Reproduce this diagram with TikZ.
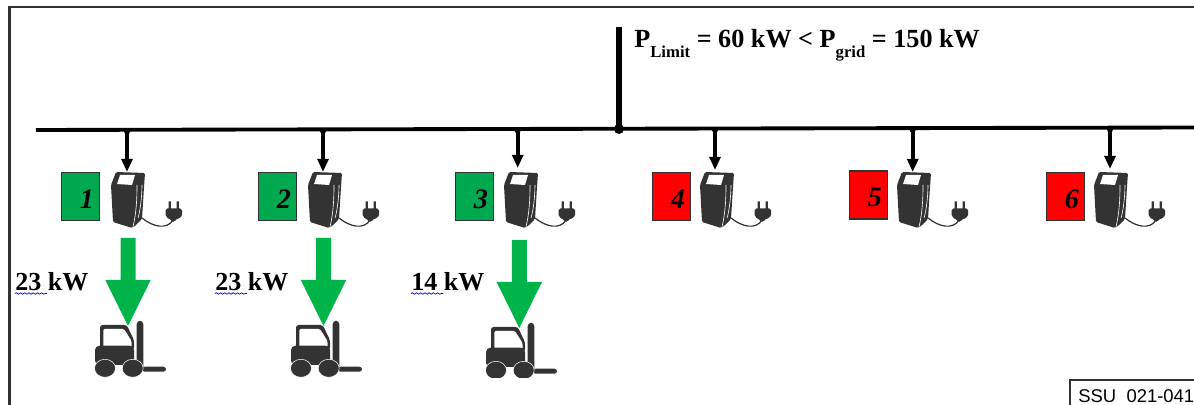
\documentclass[tikz,border=0pt]{standalone}
\usepackage{fontspec}
\setmainfont{Liberation Serif}
\newfontfamily\armo{Liberation Sans}
\usetikzlibrary{arrows.meta,decorations.pathmorphing}
\definecolor{gr}{HTML}{00A84F}
\definecolor{ga}{HTML}{00B44A}
\definecolor{dk}{HTML}{333333}
\tikzset{x=0.02cm,y=-0.02cm,
 frameln/.style={draw=dk,line width=1.4pt},
 busln/.style={line width=2.2pt,black},
 feed/.style={line width=2.2pt,black,-{Triangle[length=7.5pt,width=6.2pt]}},
 statbox/.style={draw=black!80,line width=.8pt,minimum width=0.76cm,minimum height=0.96cm,inner sep=0pt,anchor=north west},
 num/.style={font=\fontsize{16}{16}\selectfont\bfseries\itshape},
 kw/.style={font=\fontsize{14.8}{15}\selectfont\bfseries,anchor=base west,inner sep=0pt},
 charger/.pic={
  \fill[dk,rounded corners=.8pt] (5,0)--(34,1)--(33,15)--(31,47)--(24,54)--(21,56)--(2,50)--(0,13)--cycle;
  \fill[white] (9,3)--(24,3)--(21,13)--(6,12)--cycle;
  \draw[white,line width=.35pt] (26,13) .. controls (26,30) and (25,42) .. (22,55);
  \draw[white,line width=.35pt] (31,13) .. controls (31,25) and (29,40) .. (27,46);
  \draw[dk,line width=.7pt] (31,46) .. controls (42,55) and (56,58) .. (62,48);
  \fill[dk,rounded corners=1pt] (54.5,36.5) -- (71,36.5) -- (71,41) .. controls (71,45) and (67,47) .. (64,47.5) -- (63.5,50) -- (61,50) -- (60.5,47.5) .. controls (58,47) and (54.5,45) .. (54.5,41) -- cycle;
  \fill[dk] (57.5,29.5) rectangle (59.8,38) (65.5,29.5) rectangle (67.8,38);
 },
 lift/.pic={
  \fill[dk,rounded corners=1.5pt] (5,30) -- (5,5) -- (31.7,5) -- (39,20) -- (39,30) -- cycle;
  \fill[white,rounded corners=.8pt] (8.3,27) -- (8.3,9) -- (29,9) -- (36.5,21) -- (36.5,27) -- cycle;
  \fill[dk,rounded corners=2.5pt] (0,45) -- (0,25.7) -- (39,25.7) -- (39,45) -- cycle;
  \fill[dk,rounded corners=2pt] (41.7,.7) rectangle (48.3,53);
  \fill[dk,rounded corners=1.5pt] (47,46.7) rectangle (71,51.7);
  \fill[dk,draw=white,line width=.3pt] (10,48.3) ellipse [x radius=10.5,y radius=9];
  \fill[dk,draw=white,line width=.3pt] (37.7,48.3) ellipse [x radius=10.5,y radius=9];
 },
 bigarrow/.style={fill=ga}
}
\newcommand{\garrow}[3]{% centre x, top y, name
 \coordinate (#3) at (#1,#2);
 \fill[bigarrow] (#1-7.5,#2) -- (#1+7.5,#2) -- (#1+7.5,#2+42) -- (#1+22.7,#2+42) -- (#1,#2+88) -- (#1-22.7,#2+42) -- (#1-7.5,#2+42) -- cycle;
}
\begin{document}
\begin{tikzpicture}
\useasboundingbox (0,0) rectangle (1194,405);
% frame
\coordinate (fa) at (9.6,405); \coordinate (fb) at (9.6,6.8); \coordinate (fc) at (1194,6.8);
\draw[frameln] (fa) -- (fb) -- (fc);
% bus
\coordinate (busL) at (36,130); \coordinate (busR) at (1194,127.5);
\coordinate (grid) at (619,27); \coordinate (gj) at (619,129);
\draw[busln] (busL) -- (busR);
\draw[line width=2.9pt] (grid) -- (gj);
\fill (gj) circle (5);
\node[inner sep=0pt,anchor=base west,font=\fontsize{14.9}{16}\selectfont\bfseries] (lim) at (634,47.5) {P\raisebox{-5.5pt}{\fontsize{9.5}{10}\selectfont Limit} = 60 kW < P\raisebox{-5.5pt}{\fontsize{9.5}{10}\selectfont grid} = 150 kW};
% stations: tap, tip y, charger, box
\foreach \n/\tx/\ty/\tip/\cx/\cy/\bx/\by/\col in {1/127/131.5/172/111/172/61/172/gr,2/323/131/172/308/172/258/172/gr,3/517.7/130.5/168/504/172/455/172/gr,4/715/130/170/700/172/652/172/red,5/912.7/130/172/897/172/849/170.5/red,6/1110/129.5/169/1094/172/1046/172/red}{
  \coordinate (t\n) at (\tx,\ty);
  \coordinate (c\n) at (\tx,\tip);
  \fill (t\n) circle (3);
  \draw[feed] (t\n) -- (c\n);
  \pic at (\cx,\cy) {charger};
  \node[statbox,fill=\col] (b\n) at (\bx,\by) {};
  \node[num] (d\n) at (\bx+26,\by+27) {\n};
}
% power arrows
\garrow{128}{238}{g1}
\garrow{323.5}{238}{g2}
\garrow{519.3}{240}{g3}
% labels
\node[kw] (k1) at (15,291) {23 kW};
\node[kw] (k2) at (215,291) {23 kW};
\node[kw] (k3) at (411,291) {14 kW};
\foreach \x in {15,215,411}{
 \coordinate (wa) at (\x,293.5); \coordinate (wb) at (\x+32,293.5);
 \draw[blue,line width=.4pt,decorate,decoration={snake,amplitude=.4pt,segment length=2.4pt}] (wa) -- (wb);
}
% forklifts
\pic at (95,320) {lift};
\pic at (291,320) {lift};
\begin{scope}
\clip (470,300) rectangle (570,377);
\pic at (486,322) {lift};
\end{scope}
% tag
\node[draw=dk,line width=1.2pt,fill=white,anchor=north west,minimum width=2.6cm,minimum height=0.54cm,inner sep=0pt] (tag) at (1069.3,379.3) {};
\node[font=\armo\fontsize{10.5}{12}\selectfont,anchor=base west,inner sep=0pt] (tagt) at (1078,402.5) {SSU\ \ 021-041};
\end{tikzpicture}
\end{document}
